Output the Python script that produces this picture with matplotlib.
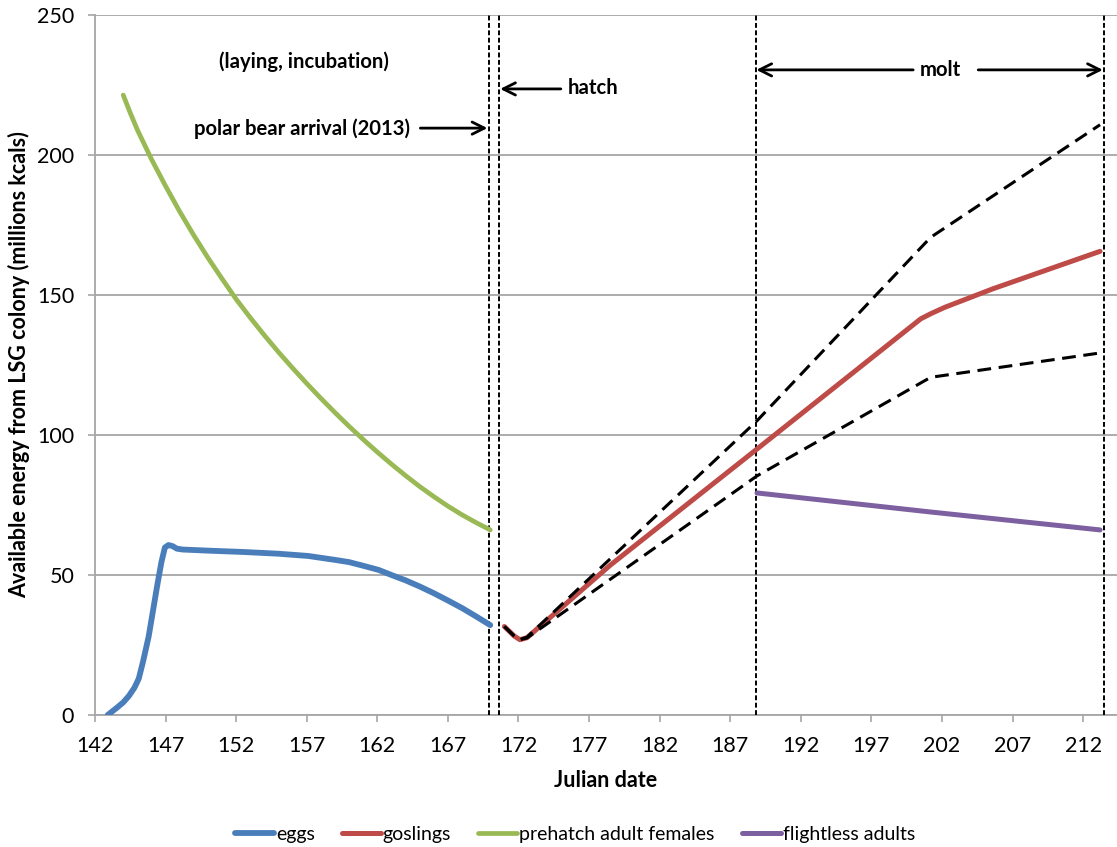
import matplotlib
matplotlib.use('Agg')
import matplotlib.pyplot as plt

plt.rcParams['font.family'] = ['Lato', 'DejaVu Sans']

# Series (Julian day, millions kcals)
eggs_day = [142.9, 143.2, 143.6, 144.0, 144.4, 144.8, 145.1, 145.4, 145.8, 146.1,
            146.4, 146.7, 146.95, 147.2, 147.5, 147.8, 148.2, 150.0, 152.6, 155.0,
            157.1, 159.0, 160.0, 161.0, 162.1, 163.0, 164.0, 165.0, 166.0, 167.0,
            168.0, 169.0, 170.0]
eggs_val = [0, 1.2, 2.8, 4.5, 6.8, 9.8, 13.0, 19.0, 28.0, 37.0,
            46.0, 54.5, 59.8, 60.7, 60.3, 59.4, 59.1, 58.7, 58.2, 57.6,
            56.8, 55.4, 54.6, 53.3, 51.8, 50.0, 48.1, 45.9, 43.5, 40.9,
            38.2, 35.2, 32.1]

prehatch_day = [144, 144.5, 145, 146, 147, 148, 149, 150, 151, 152, 153, 154, 155, 156,
                157, 158, 159, 160, 161, 162, 163, 164, 165, 166, 167, 168, 169, 170]
prehatch_val = [221.4, 215.0, 209.0, 198.5, 188.9, 179.8, 171.3, 163.3, 155.8, 148.5,
                141.9, 135.6, 129.6, 123.9, 118.4, 113.1, 108.0, 103.1, 98.4, 93.9,
                89.6, 85.5, 81.6, 78.0, 74.6, 71.5, 68.7, 66.1]

goslings_day = [171.0, 171.7, 172.1, 172.6, 178.5, 188.9, 200.5, 201.2, 202.2, 205.6, 213.2]
goslings_val = [31.6, 28.2, 26.9, 27.6, 53.5, 95.0, 141.5, 143.3, 145.6, 152.2, 165.6]

upper_day = [171.0, 171.7, 172.1, 172.6, 188.9, 201.2, 213.2]
upper_val = [31.6, 28.2, 26.9, 27.8, 105.1, 170.6, 210.8]

lower_day = [171.0, 171.7, 172.1, 172.6, 188.9, 201.2, 213.2]
lower_val = [31.6, 28.2, 26.9, 27.5, 85.4, 120.6, 129.3]

flightless_day = [188.9, 201.2, 213.2]
flightless_val = [79.3, 72.5, 66.1]

event_days = [169.9, 170.6, 188.8, 213.5]

x_ticks = list(range(142, 213, 5))
y_ticks = list(range(0, 251, 50))

fig = plt.figure(figsize=(11.17, 8.47), dpi=100)
ax = fig.add_axes([95 / 1117, 1 - 715 / 847, 1 - 95 / 1117, 700 / 847])

grid_gray = '#A6A6A6'
ax.yaxis.grid(True, color=grid_gray, lw=1.3)
ax.set_axisbelow(True)
for side in ['top', 'right']:
    ax.spines[side].set_visible(False)
for side in ['left', 'bottom']:
    ax.spines[side].set_color(grid_gray)
    ax.spines[side].set_linewidth(1.3)

# Event lines
for d in event_days:
    ax.axvline(d, color='black', lw=1.4, linestyle=(0, (2.5, 1.3)), zorder=3)

kw = dict(solid_capstyle='round', solid_joinstyle='round', zorder=4)
ax.plot(eggs_day, eggs_val, color='#4A7EBB', lw=4.2, label='eggs', **kw)
ax.plot(goslings_day, goslings_val, color='#BE4B48', lw=3.6, label='goslings', **kw)
ax.plot(prehatch_day, prehatch_val, color='#98B954', lw=3.4, label='prehatch adult females', **kw)
ax.plot(flightless_day, flightless_val, color='#7D60A0', lw=3.6, label='flightless adults', **kw)

ax.plot(upper_day, upper_val, color='black', lw=2.2, linestyle=(0, (4.5, 2.5)), zorder=5)
ax.plot(lower_day, lower_val, color='black', lw=2.2, linestyle=(0, (4.5, 2.5)), zorder=5)

ax.set_xlim(142, 214.4)
ax.set_ylim(0, 250)
ax.set_xticks(x_ticks)
ax.set_yticks(y_ticks)
ax.tick_params(axis='x', direction='out', length=5, width=1.2, color=grid_gray,
               labelsize=15.5, pad=10)
ax.tick_params(axis='y', direction='out', length=5, width=1.2, color=grid_gray,
               labelsize=15.5, pad=10)

ax.set_xlabel('Julian date', fontsize=15.5, fontweight='bold', labelpad=10)
ax.set_ylabel('Available energy from LSG colony (millions kcals)', fontsize=15.5,
              fontweight='bold', labelpad=5)

# Annotations
txt = dict(fontsize=14.6, fontweight='bold', va='center')
arrow = dict(arrowstyle='->', lw=2.0, color='black', mutation_scale=22,
             shrinkA=0, shrinkB=0)

ax.text(156.8, 233.2, '(laying, incubation)', ha='center', **txt)
ax.text(164.3, 209.4, 'polar bear arrival (2013)', ha='right', **txt)
ax.annotate('', xy=(169.8, 209.6), xytext=(165.05, 209.6), arrowprops=arrow)

ax.text(175.5, 223.9, 'hatch', ha='left', **txt)
ax.annotate('', xy=(170.7, 223.6), xytext=(175.0, 223.6), arrowprops=arrow)

ax.text(201.9, 230.4, 'molt', ha='center', **txt)
ax.annotate('', xy=(188.85, 230.4), xytext=(199.96, 230.4), arrowprops=arrow)
ax.annotate('', xy=(213.4, 230.4), xytext=(204.57, 230.4), arrowprops=arrow)

fig.legend(*ax.get_legend_handles_labels(), loc='center',
           bbox_to_anchor=(575 / 1117, 1 - 834 / 847), ncol=4, frameon=False,
           fontsize=14, handlelength=2.0, handletextpad=0.1, columnspacing=1.4)

fig.savefig('out.png', dpi=100)
